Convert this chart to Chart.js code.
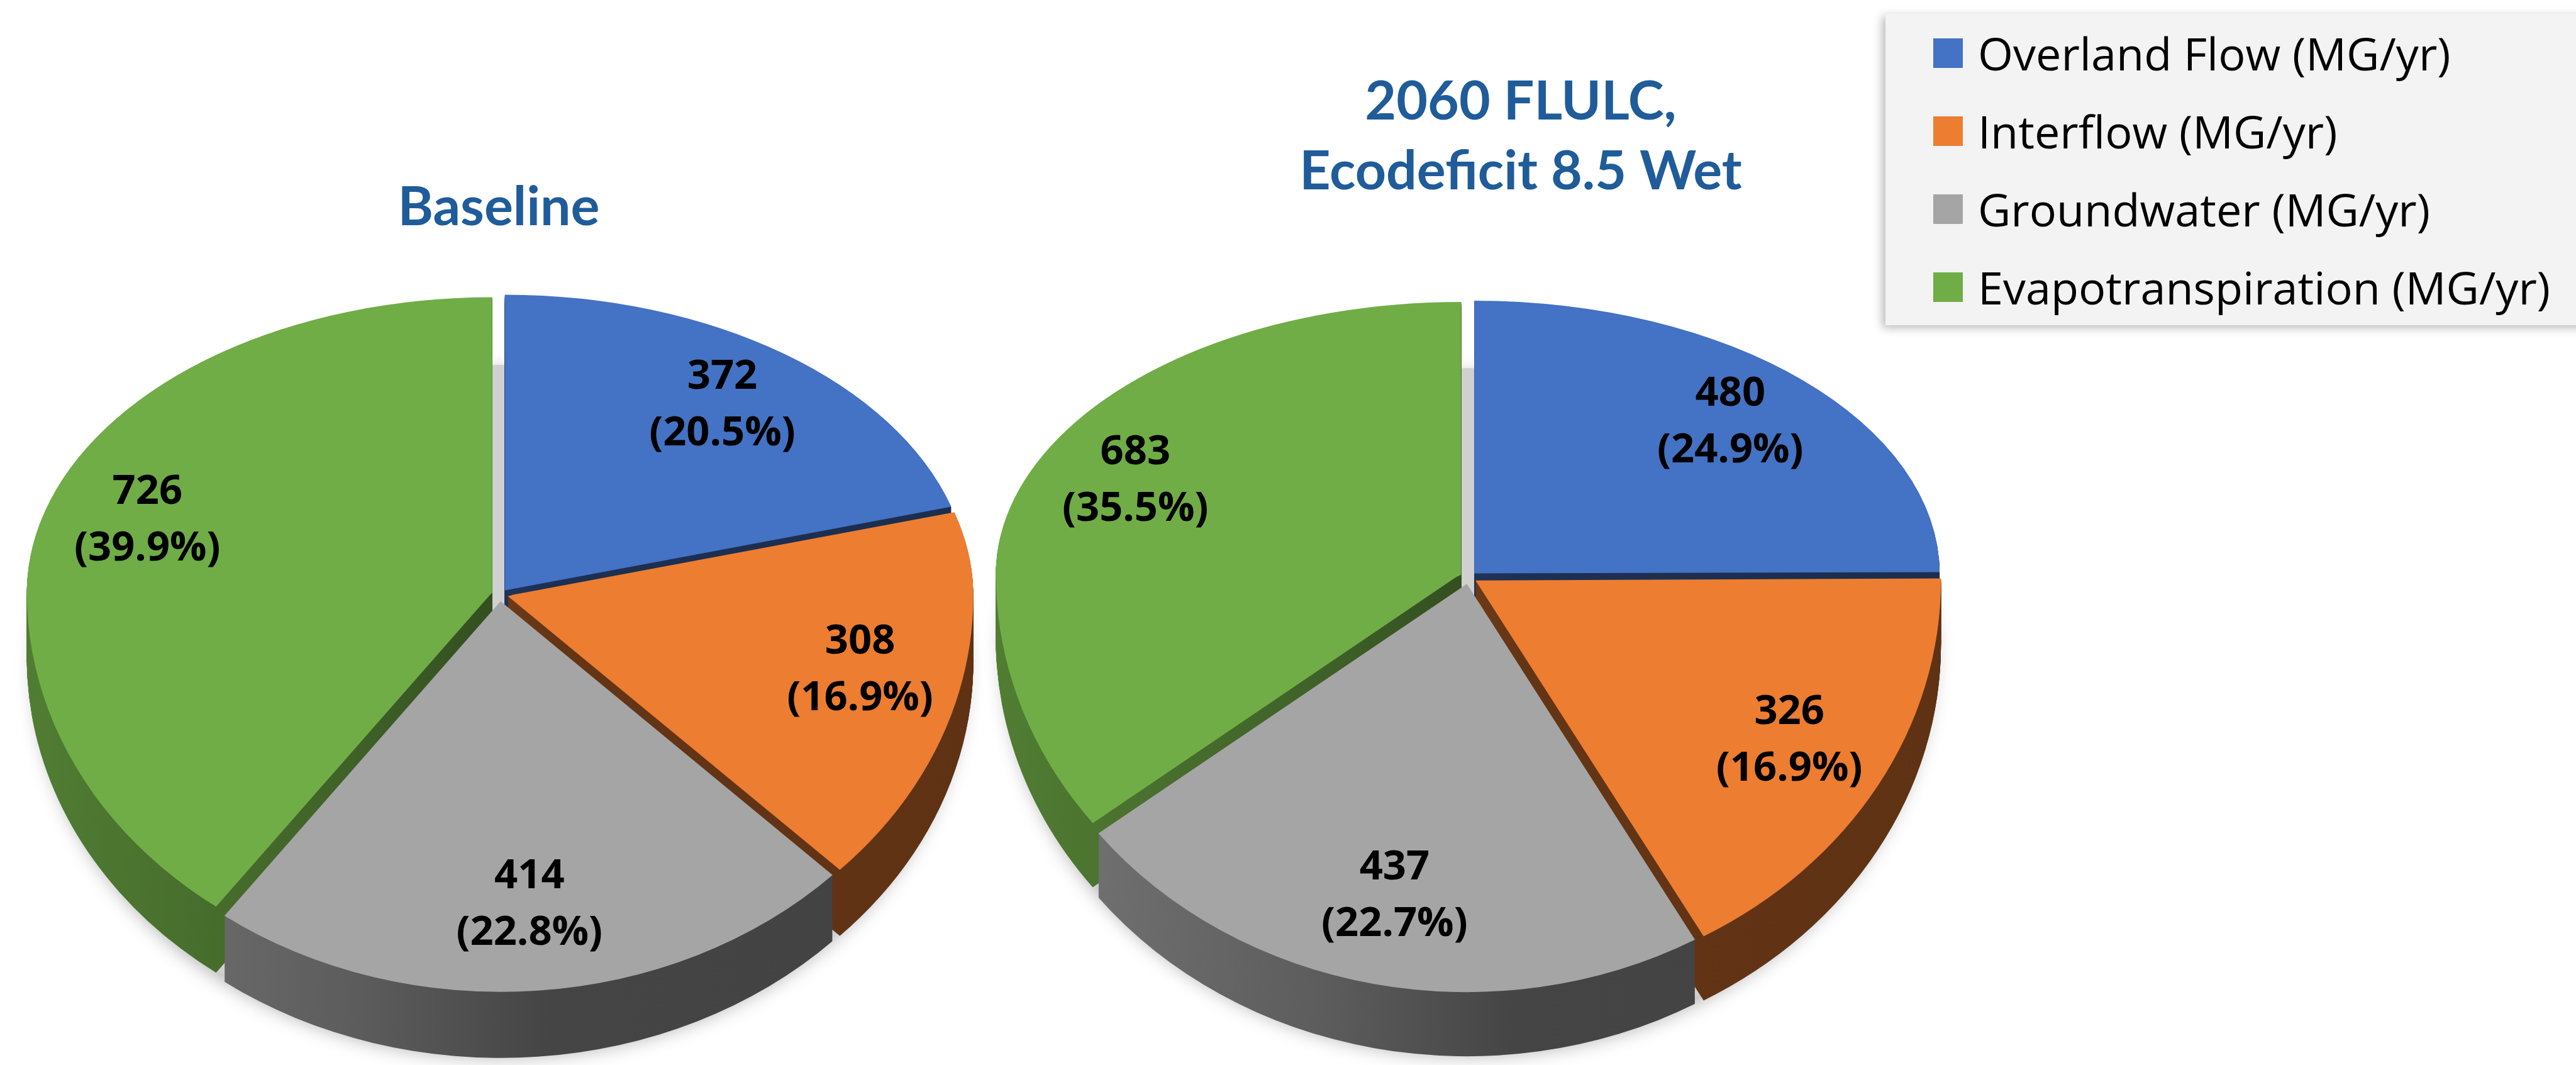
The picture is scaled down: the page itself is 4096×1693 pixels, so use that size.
<!DOCTYPE html>
<html>
<head>
<meta charset="utf-8">
<title>Water budget pies</title>
<script src="https://cdn.jsdelivr.net/npm/chart.js@4.4.1/dist/chart.umd.min.js"></script>
<style>
  html, body { margin: 0; padding: 0; background: #fff; }
  body { width: 4096px; height: 1693px; position: relative; overflow: hidden; }
  canvas { position: absolute; top: 0; }
  #baselineChart { left: 0; }
  #futureChart { left: 1500px; }
  #legend {
    position: absolute; left: 2998px; top: 22px; width: 1160px; height: 495px;
    background: #f3f3f3; box-shadow: -5px 4px 14px rgba(0, 0, 0, 0.28);
    font-family: "Open Sans", sans-serif; font-size: 72px; color: #000;
  }
  #legend .item { position: absolute; left: 76px; height: 80px; display: flex; align-items: center; white-space: nowrap; }
  #legend .swatch { width: 47px; height: 47px; margin-right: 24px; }
</style>
</head>
<body>
<canvas id="baselineChart" width="1586" height="1693"></canvas>
<canvas id="futureChart" width="1836" height="1693"></canvas>
<div id="legend"></div>

<script>
const categories = [
  "Overland Flow (MG/yr)",
  "Interflow (MG/yr)",
  "Groundwater (MG/yr)",
  "Evapotranspiration (MG/yr)",
];
const sliceColors = ["#4472C4", "#ED7D31", "#A5A5A5", "#70AD47"];

const baselineTitle = "Baseline";
const baselineValues = [372, 308, 414, 726];
const baselinePercents = ["20.5%", "16.9%", "22.8%", "39.9%"];

const futureTitle = ["2060 FLULC,", "Ecodeficit 8.5 Wet"];
const futureValues = [480, 326, 437, 683];
const futurePercents = ["24.9%", "16.9%", "22.7%", "35.5%"];

const titleColor = "#1f5c99";

function shade(hex, f) {
  const n = parseInt(hex.slice(1), 16);
  const r = Math.round(((n >> 16) & 255) * f);
  const g = Math.round(((n >> 8) & 255) * f);
  const b = Math.round((n & 255) * f);
  return `rgb(${r},${g},${b})`;
}

// fake 3D pie: top half squashed more than the bottom half (perspective),
// slices pushed out a little and extruded downwards
const pie3d = {
  id: "pie3d",
  beforeDatasetsDraw(chart, args, opts) {
    const ctx = chart.ctx;
    const arcs = chart.getDatasetMeta(0).data;
    const colors = chart.data.datasets[0].backgroundColor;
    const a0 = arcs[0];
    const R = a0.outerRadius;
    const dx = opts.cx - a0.x;
    const dy = opts.cy - a0.y;

    const halves = (d, fn) => {
      [[opts.kTop, -1], [opts.kBottom, 1]].forEach(([k, side]) => {
        ctx.save();
        ctx.translate(dx, dy + d);
        ctx.beginPath();
        if (side < 0) ctx.rect(a0.x - 2 * R, a0.y - 2 * R, 4 * R, 2 * R + 0.5);
        else ctx.rect(a0.x - 2 * R, a0.y - 0.5, 4 * R, 2 * R);
        ctx.clip();
        ctx.translate(0, a0.y);
        ctx.scale(1, k);
        ctx.translate(0, -a0.y);
        fn();
        ctx.restore();
      });
    };

    const explode = (a) => {
      const mid = (a.startAngle + a.endAngle) / 2;
      ctx.translate(Math.cos(mid) * opts.explode, Math.sin(mid) * opts.explode);
    };

    const sideFill = arcs.map((a, i) => {
      const g = ctx.createLinearGradient(a0.x - R, 0, a0.x + R, 0);
      g.addColorStop(0, shade(colors[i], 0.72));
      g.addColorStop(0.35, shade(colors[i], 0.56));
      g.addColorStop(0.55, shade(colors[i], 0.42));
      g.addColorStop(1, shade(colors[i], 0.4));
      return g;
    });

    // floor under the slices, casts the soft shadow
    halves(opts.depth, () => {
      ctx.shadowColor = "rgba(0,0,0,0.3)";
      ctx.shadowBlur = 30;
      ctx.shadowOffsetY = 10;
      ctx.fillStyle = "#d0d0d0";
      ctx.beginPath();
      ctx.arc(a0.x, a0.y, R, 0, Math.PI * 2);
      ctx.fill();
    });

    // side walls
    for (let d = opts.depth; d >= 1; d--) {
      halves(d, () => {
        arcs.forEach((a, i) => {
          ctx.save();
          explode(a);
          ctx.fillStyle = sideFill[i];
          ctx.beginPath();
          ctx.moveTo(a.x, a.y);
          ctx.arc(a.x, a.y, a.outerRadius, a.startAngle, a.endAngle);
          ctx.closePath();
          ctx.fill();
          ctx.restore();
        });
      });
    }

    // top faces
    halves(0, () => {
      arcs.forEach((a) => {
        ctx.save();
        explode(a);
        a.draw(ctx);
        ctx.restore();
      });
    });
    return false;
  },
  afterDraw(chart, args, opts) {
    const ctx = chart.ctx;
    const arcs = chart.getDatasetMeta(0).data;
    const values = chart.data.datasets[0].data;
    ctx.save();
    ctx.font = `bold ${opts.labelSize}px "Open Sans"`;
    ctx.fillStyle = "#000";
    ctx.textAlign = "center";
    ctx.textBaseline = "middle";
    arcs.forEach((a, i) => {
      const mid = (a.startAngle + a.endAngle) / 2;
      const r = a.outerRadius * opts.labelRadius + opts.explode;
      const k = Math.sin(mid) < 0 ? opts.kTop : opts.kBottom;
      const x = opts.cx + Math.cos(mid) * r;
      const y = opts.cy + Math.sin(mid) * r * k;
      ctx.fillText(String(values[i]), x, y - opts.labelGap / 2);
      ctx.fillText("(" + opts.percents[i] + ")", x, y + opts.labelGap / 2);
    });
    ctx.restore();
  },
};

function makePie(canvasId, title, values, percents, geo, titleTop) {
  const ctx = document.getElementById(canvasId).getContext("2d");
  return new Chart(ctx, {
    type: "pie",
    data: {
      labels: categories,
      datasets: [
        {
          data: values,
          backgroundColor: sliceColors,
          borderWidth: 0,
        },
      ],
    },
    options: {
      responsive: false,
      animation: false,
      devicePixelRatio: 1,
      radius: geo.R,
      plugins: {
        legend: { display: false },
        tooltip: { enabled: false },
        title: {
          display: true,
          text: title,
          color: titleColor,
          font: { family: "Lato", weight: "bold", size: 86, lineHeight: 1.3 },
          padding: { top: titleTop, bottom: 0 },
        },
        pie3d: Object.assign({ percents: percents, labelSize: 65, labelGap: 90, labelRadius: 0.78 }, geo),
      },
    },
    plugins: [pie3d],
  });
}

makePie("baselineChart", baselineTitle, baselineValues, baselinePercents,
  { cx: 795, cy: 945, R: 740, kTop: 0.635, kBottom: 0.839, depth: 105, explode: 13 }, 274);

makePie("futureChart", futureTitle, futureValues, futurePercents,
  { cx: 835, cy: 917, R: 740, kTop: 0.586, kBottom: 0.877, depth: 102, explode: 13 }, 106);

// legend box
const legend = document.getElementById("legend");
categories.forEach((name, i) => {
  const item = document.createElement("div");
  item.className = "item";
  item.style.top = (62 + i * 124 - 40) + "px";
  item.innerHTML = `<span class="swatch" style="background:${sliceColors[i]}"></span><span>${name}</span>`;
  legend.appendChild(item);
});
</script>
</body>
</html>
